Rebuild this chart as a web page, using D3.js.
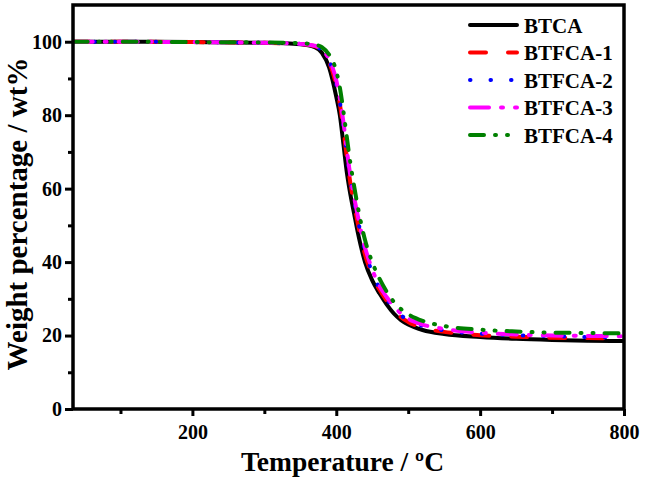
<!DOCTYPE html>
<html>
<head>
<meta charset="utf-8">
<script src="https://cdn.jsdelivr.net/npm/d3@7"></script>
<style>
  body { margin: 0; background: #fff; }
  text { font-family: "Liberation Serif", "Times New Roman", serif; font-weight: bold; fill: #000; }
</style>
</head>
<body>
<svg id="chart" width="645" height="481"></svg>
<script>
// temperature grid (ºC), shared by all samples
const temps = [35, 100, 200, 300, 350, 370, 380, 390, 400, 405, 410, 415, 420, 425, 430, 440, 450, 460, 470, 480, 490, 500, 520, 550, 600, 650, 700, 750, 800];

const btca   = [100, 100, 99.9, 99.7, 99.3, 98.5, 97, 93, 85, 80, 72, 64, 58, 53, 48, 40, 35, 31.5, 28.5, 26, 24.2, 23, 21.5, 20.4, 19.6, 19.1, 18.8, 18.6, 18.5];
const btfca1 = [100, 100, 99.9, 99.7, 99.4, 98.8, 97.5, 94.5, 88, 83, 76, 68, 61, 55.5, 50.5, 42, 36.5, 32.5, 29.5, 27, 25, 23.7, 22.1, 21, 20.1, 19.7, 19.4, 19.3, 19.2];
const btfca2 = [100, 100, 99.9, 99.7, 99.4, 98.8, 97.6, 94.8, 88.5, 83.5, 77, 69, 62, 56.5, 51.5, 43, 37.2, 33, 30, 27.5, 25.5, 24.2, 22.6, 21.4, 20.5, 20.1, 19.8, 19.6, 19.5];
const btfca3 = [100, 100, 99.9, 99.7, 99.4, 98.9, 97.8, 95.2, 89.5, 84.5, 78, 70, 63, 57.5, 52.5, 44, 38, 33.5, 30.5, 28, 26, 24.6, 23, 21.8, 20.8, 20.3, 20, 19.9, 19.8];
const btfca4 = [100, 100, 99.9, 99.8, 99.6, 99.2, 98.5, 96.5, 92, 87.5, 81, 73.5, 66.5, 60.5, 55, 46, 40, 35.5, 32, 29.2, 27.2, 25.8, 24, 22.6, 21.6, 21.1, 20.8, 20.7, 20.6];

const seriesNames = ['BTCA', 'BTFCA-1', 'BTFCA-2', 'BTFCA-3', 'BTFCA-4'];
const xMajorTicks = [200, 400, 600, 800];
const xMinorTicks = [100, 300, 500, 700];
const yMajorTicks = [0, 20, 40, 60, 80, 100];
const yMinorTicks = [10, 30, 50, 70, 90];

const styles = [
    { color: '#000000', dash: null },
    { color: '#ff0000', dash: '16,22' },
    { color: '#0000ff', dash: '0.5,20' },
    { color: '#ff00ff', dash: '19,12,2,12' },
    { color: '#008000', dash: '14,11,1,11,1,11' }
];

const series = [btca, btfca1, btfca2, btfca3, btfca4].map((vals, i) => ({
    name: seriesNames[i],
    style: styles[i],
    data: temps.map((t, j) => ({ t: t, w: vals[j] }))
}));

const margin = { top: 5, right: 21, bottom: 72, left: 73 };
const width = 645 - margin.left - margin.right;
const height = 481 - margin.top - margin.bottom;

const svg = d3.select('#chart');
const g = svg.append('g').attr('transform', `translate(${margin.left},${margin.top})`);

const x = d3.scaleLinear().domain([34, 800]).range([0, width]);
const y = d3.scaleLinear().domain([0, 110]).range([height, 0]);

const line = d3.line()
    .x(d => x(d.t))
    .y(d => y(d.w))
    .curve(d3.curveMonotoneX);

// curves, BTFCA-4 ends on top as in the original plot
g.selectAll('.curve')
    .data(series)
    .enter()
    .append('path')
    .classed('curve', true)
    .attr('d', d => line(d.data))
    .attr('fill', 'none')
    .attr('stroke', d => d.style.color)
    .attr('stroke-width', 4)
    .attr('stroke-linecap', d => d.style.dash ? 'round' : 'butt')
    .attr('stroke-dasharray', d => d.style.dash);

// frame
g.append('rect')
    .attr('width', width)
    .attr('height', height)
    .attr('fill', 'none')
    .attr('stroke', '#000')
    .attr('stroke-width', 3.5);

// bottom axis
g.append('g')
    .attr('transform', `translate(0,${height})`)
    .call(d3.axisBottom(x).tickValues(xMajorTicks).tickSize(7).tickPadding(9));
g.append('g')
    .attr('transform', `translate(0,${height})`)
    .call(d3.axisBottom(x).tickValues(xMinorTicks).tickSize(5).tickFormat(''));

// left axis
g.append('g')
    .call(d3.axisLeft(y).tickValues(yMajorTicks).tickSize(8).tickPadding(3));
g.append('g')
    .call(d3.axisLeft(y).tickValues(yMinorTicks).tickSize(5).tickFormat(''));

g.selectAll('.domain').remove();
g.selectAll('.tick line').attr('stroke', '#000').attr('stroke-width', 3);
g.selectAll('.tick text').style('font-size', '20px').attr('fill', '#000');

// axis titles
svg.append('text')
    .attr('x', margin.left + width / 2 - 6)
    .attr('y', 471)
    .attr('text-anchor', 'middle')
    .style('font-size', '27.5px')
    .text('Temperature / \u00BAC');

svg.append('text')
    .attr('transform', `translate(27,${214}) rotate(-90)`)
    .attr('text-anchor', 'middle')
    .style('font-size', '29px')
    .text('Weight percentage / wt%');

// legend
const legend = svg.append('g').attr('transform', 'translate(468,25)');
const items = legend.selectAll('.item')
    .data(series)
    .enter()
    .append('g')
    .classed('item', true)
    .attr('transform', (d, i) => `translate(0,${i * 27.5})`);

items.append('line')
    .attr('x1', 2).attr('x2', 49)
    .attr('stroke', d => d.style.color)
    .attr('stroke-width', 4)
    .attr('stroke-linecap', 'round')
    .attr('stroke-dasharray', d => d.style.dash);

items.append('text')
    .attr('x', 56)
    .attr('y', 7.5)
    .style('font-size', '21px')
    .text(d => d.name);
</script>
</body>
</html>
